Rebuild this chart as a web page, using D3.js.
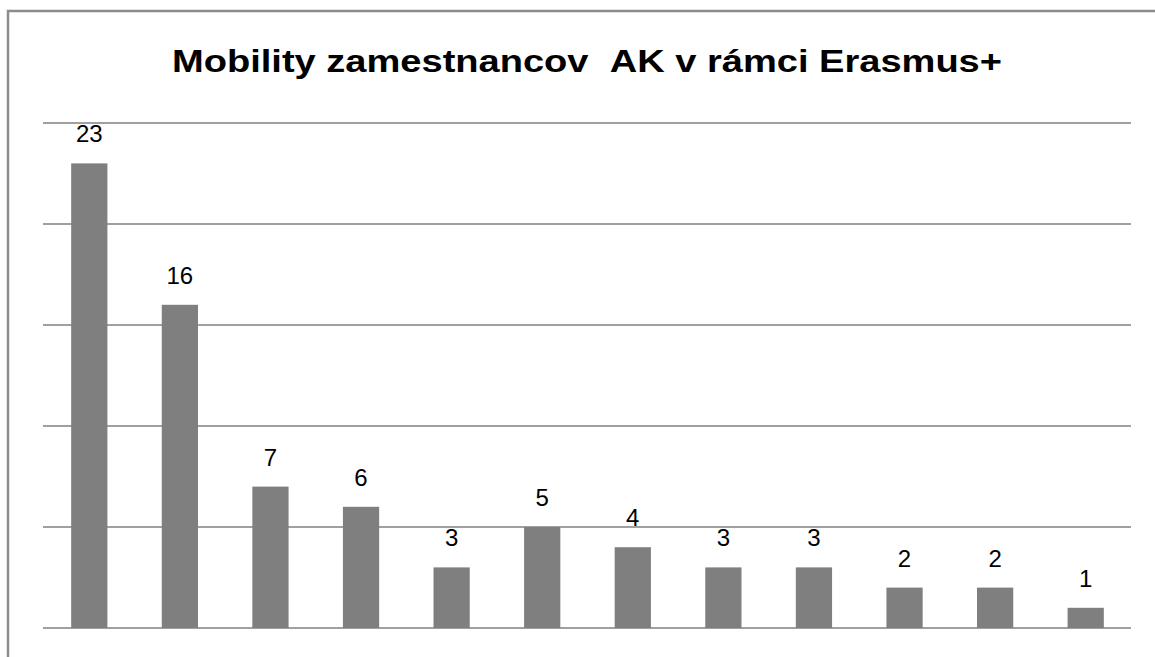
<!DOCTYPE html>
<html>
<head>
<meta charset="utf-8">
<script src="https://cdn.jsdelivr.net/npm/d3@7"></script>
<style>
  body { margin: 0; background: #fff; }
</style>
</head>
<body>
<div id="chart"></div>
<script>
(function(){
    var width = 1155;
    var height = 657;

    // data (no category labels are shown)
    var categories = ["1","2","3","4","5","6","7","8","9","10","11","12"];
    var values = [23, 16, 7, 6, 3, 5, 4, 3, 3, 2, 2, 1];
    var yTicks = [0, 5, 10, 15, 20, 25];
    var title = "Mobility zamestnancov\u00a0\u00a0AK v rámci Erasmus+";

    var svg = d3.select("#chart")
      .append("svg")
      .attr("width", width)
      .attr("height", height);

    // outer frame (only top and left edges visible)
    svg.append("path")
      .attr("d", "M8,670 L8,11 L1170,11")
      .attr("fill", "none")
      .attr("stroke", "#8c8c8c")
      .attr("stroke-width", 2.5);

    var x = d3.scaleBand().domain(categories).range([44, 1131])
      .paddingInner(0.6).paddingOuter(0.3);
    var y = d3.scaleLinear().domain([0, 25]).range([628, 123]);

    // gridlines
    svg.append("g")
      .selectAll("line")
      .data(yTicks)
      .enter().append("line")
      .attr("x1", 43)
      .attr("x2", 1131)
      .attr("y1", function(d){ return y(d); })
      .attr("y2", function(d){ return y(d); })
      .attr("stroke", "#a0a0a0")
      .attr("stroke-width", 2);

    svg.append("g")
      .selectAll("rect")
      .data(values)
      .enter().append("rect")
      .attr("x", function(d, i){ return x(categories[i]); })
      .attr("y", function(d){ return y(d); })
      .attr("width", x.bandwidth())
      .attr("height", function(d){ return y(0) - y(d); })
      .attr("fill", "#7f7f7f");

    svg.append("g")
      .selectAll("text")
      .data(values)
      .enter().append("text")
      .attr("x", function(d, i){ return x(categories[i]) + x.bandwidth() / 2; })
      .attr("y", function(d){ return y(d) - 21; })
      .attr("text-anchor", "middle")
      .attr("font-family", "'Liberation Sans', Arial, sans-serif")
      .attr("font-size", 24)
      .attr("fill", "#000")
      .text(function(d){ return d; });

    svg.append("text")
      .attr("x", 587)
      .attr("y", 72)
      .attr("text-anchor", "middle")
      .attr("font-family", "'Liberation Sans', Arial, sans-serif")
      .attr("font-weight", "bold")
      .attr("font-size", 32)
      .attr("textLength", 830)
      .attr("lengthAdjust", "spacingAndGlyphs")
      .attr("fill", "#000")
      .text(title);
})();
</script>
</body>
</html>
